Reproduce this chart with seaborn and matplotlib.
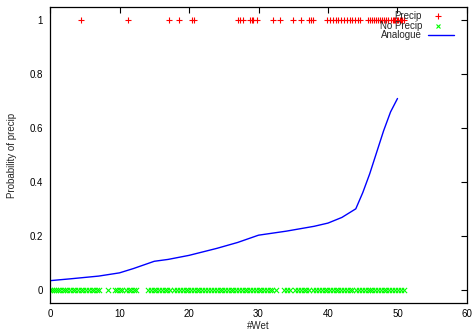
import matplotlib
matplotlib.use("Agg")
import matplotlib.pyplot as plt
import seaborn as sns
import pandas as pd

# Days with precipitation, by number of wet analogues
precip_wet = [4.5, 11.2, 17.1, 18.5, 20.5, 20.7, 27.0, 27.3, 27.7, 28.8, 29.0, 29.2,
              29.8, 32.1, 33.1, 35.0, 36.1, 37.3, 37.6, 37.9, 39.9, 40.3, 40.7, 41.1,
              41.5, 41.9, 42.3, 42.7, 43.2, 43.5, 43.9, 44.3, 44.6, 45.7, 46.0, 46.3,
              46.6, 46.9, 47.2, 47.5, 47.8, 48.1, 48.4, 48.7, 49.0, 49.3, 49.5, 49.7,
              49.9, 50.1, 50.3, 50.5, 50.7, 50.9]

# Days without precipitation, by number of wet analogues
noprecip_wet = [0.0, 0.3, 0.6, 0.9, 1.2, 1.5, 1.8, 2.1, 2.5, 2.9, 3.3, 3.6, 4.0, 4.4,
                4.8, 5.2, 5.6, 6.0, 6.4, 6.8, 7.1, 8.4, 9.3, 9.6, 10.0, 10.3, 10.9,
                11.3, 11.7, 12.1, 12.4, 14.1, 14.5, 14.9, 15.3, 15.7, 16.1, 16.5, 16.9,
                17.3, 17.9, 18.3, 18.7, 19.1, 19.5, 19.9, 20.3, 20.7, 21.1, 21.5, 21.9,
                22.3, 22.7, 23.1, 23.6, 24.0, 24.4, 24.8, 25.2, 25.6, 26.0, 26.4, 26.8,
                27.2, 27.6, 28.0, 28.4, 28.8, 29.2, 29.6, 30.0, 30.4, 30.8, 31.2, 31.6,
                32.0, 32.5, 33.7, 34.1, 34.5, 35.3, 35.7, 36.1, 36.5, 36.9, 37.3, 37.9,
                38.3, 38.7, 39.1, 39.5, 39.9, 40.3, 40.7, 41.1, 41.5, 41.9, 42.3, 42.7,
                43.1, 43.5, 44.1, 44.5, 44.9, 45.3, 45.7, 46.0, 46.4, 46.8, 47.2, 47.6,
                48.0, 48.4, 48.8, 49.2, 49.6, 50.1, 50.5, 50.9]

# Analogue-based probability of precipitation
analogue_wet = [0, 3, 7, 10, 12, 15, 17, 20, 24, 27, 30, 34, 38, 40, 42, 44, 45, 46,
                47, 48, 49, 50]
analogue_prob = [0.033, 0.040, 0.050, 0.062, 0.078, 0.105, 0.112, 0.127, 0.153, 0.175,
                 0.202, 0.217, 0.235, 0.247, 0.268, 0.300, 0.360, 0.430, 0.510, 0.590,
                 0.660, 0.710]

df_p = pd.DataFrame({"wet": precip_wet, "p": [1.0] * len(precip_wet)})
df_n = pd.DataFrame({"wet": noprecip_wet, "p": [0.0] * len(noprecip_wet)})
df_a = pd.DataFrame({"wet": analogue_wet, "p": analogue_prob})

sns.set_style("white")
plt.rcParams["font.family"] = ["Liberation Sans", "DejaVu Sans"]

W, H = 472, 331
fig = plt.figure(figsize=(W / 100, H / 100), dpi=100)
ax = fig.add_axes([50 / W, (H - 303) / H, 417 / W, 296 / H])

sns.scatterplot(data=df_p, x="wet", y="p", ax=ax, marker="+", color="#ff0000",
                s=18, linewidth=0.8, legend=False)
sns.scatterplot(data=df_n, x="wet", y="p", ax=ax, marker="x", color="#00ff00",
                s=14, linewidth=0.8, legend=False)
sns.lineplot(data=df_a, x="wet", y="p", ax=ax, color="#0000ff", linewidth=1.0,
             legend=False)

ax.set_xlim(0, 60)
ax.set_ylim(-0.05, 1.05)
ax.set_xticks([0, 10, 20, 30, 40, 50, 60])
ax.set_yticks([0, 0.2, 0.4, 0.6, 0.8, 1])
ax.set_yticklabels(["0", "0.2", "0.4", "0.6", "0.8", "1"])
ax.tick_params(direction="in", length=4, width=0.8, labelsize=7, colors="black",
               top=True, right=True)
ax.tick_params(axis="x", pad=4)
ax.tick_params(axis="y", pad=5)
for s in ax.spines.values():
    s.set_color("black")
    s.set_linewidth(0.9)
ax.set_xlabel("#Wet", fontsize=7, labelpad=2)
ax.set_ylabel("Probability of precip", fontsize=7, labelpad=9)

# gnuplot-style key in the upper right
tx = 0.892
rows = [0.968, 0.937, 0.904]
ax.text(tx, rows[0], "Precip", transform=ax.transAxes, ha="right", va="center", fontsize=7)
ax.text(tx, rows[1], "No Precip", transform=ax.transAxes, ha="right", va="center", fontsize=7)
ax.text(tx, rows[2], "Analogue", transform=ax.transAxes, ha="right", va="center", fontsize=7)
ax.plot([0.93], [rows[0]], transform=ax.transAxes, marker="+", color="#ff0000",
        markersize=4, mew=0.8, clip_on=False)
ax.plot([0.93], [rows[1]], transform=ax.transAxes, marker="x", color="#00ff00",
        markersize=3.5, mew=0.8, clip_on=False)
ax.plot([0.907, 0.97], [rows[2], rows[2]], transform=ax.transAxes, color="#0000ff",
        linewidth=1.0, clip_on=False)

fig.savefig("out.png", dpi=100, facecolor="white")
